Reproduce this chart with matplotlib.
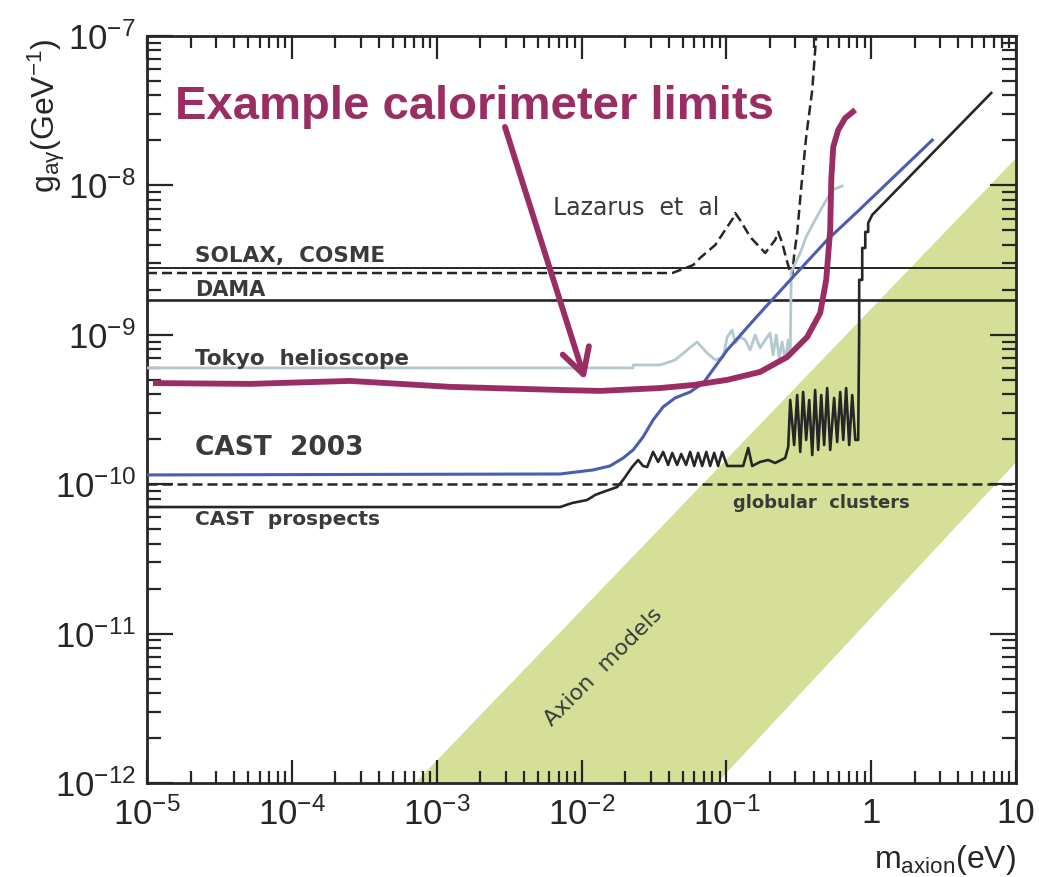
import matplotlib
matplotlib.use('Agg')
import matplotlib.pyplot as plt

plt.rcParams['font.family'] = ['Liberation Sans', 'DejaVu Sans']
plt.rcParams['mathtext.fontset'] = 'custom'
plt.rcParams['mathtext.rm'] = 'Liberation Sans'
plt.rcParams['mathtext.it'] = 'Liberation Sans:italic'
plt.rcParams['mathtext.bf'] = 'Liberation Sans:bold'

# axion mass (eV) and coupling (GeV^-1)
cast_prosp_m = [1e-5, 7.11e-3, 8.61e-3, 1.094e-2, 1.242e-2, 1.409e-2, 1.762e-2, 1.936e-2,
                2.233e-2, 2.46e-2, 2.66e-2, 2.838e-2, 3.12e-2, 3.38e-2, 3.66e-2, 3.96e-2,
                4.23e-2, 4.57e-2, 4.88e-2, 5.27e-2, 5.62e-2, 6.00e-2, 6.38e-2, 6.81e-2,
                7.27e-2, 7.73e-2, 8.24e-2, 8.77e-2, 9.35e-2, 0.1014, 0.1306, 0.1416,
                0.1507, 0.171, 0.1945, 0.2173, 0.2547, 0.2673, 0.276, 0.2938, 0.3083,
                0.3236, 0.3388, 0.3556, 0.3733, 0.3917, 0.410, 0.4305, 0.4519, 0.4732,
                0.4966, 0.5212, 0.5546, 0.5821, 0.6109, 0.6412, 0.6714, 0.7047, 0.7396,
                0.7762, 0.8128, 0.826, 0.826, 0.867, 0.867, 0.910, 0.910, 0.953, 0.953,
                1.016, 6.74]
cast_prosp_g = [7.03e-11, 7.03e-11, 7.48e-11, 7.84e-11, 8.47e-11, 8.87e-11, 9.57e-11, 1.067e-10,
                1.303e-10, 1.452e-10, 1.324e-10, 1.303e-10, 1.644e-10, 1.409e-10, 1.644e-10, 1.346e-10,
                1.618e-10, 1.346e-10, 1.592e-10, 1.346e-10, 1.644e-10, 1.324e-10, 1.618e-10, 1.324e-10,
                1.644e-10, 1.324e-10, 1.618e-10, 1.324e-10, 1.644e-10, 1.324e-10, 1.324e-10, 1.746e-10,
                1.324e-10, 1.409e-10, 1.452e-10, 1.387e-10, 1.496e-10, 1.774e-10, 3.66e-10, 1.828e-10, 3.95e-10,
                1.644e-10, 4.14e-10, 1.977e-10, 3.66e-10, 1.567e-10, 4.27e-10, 1.694e-10, 3.95e-10, 1.828e-10,
                4.40e-10, 1.694e-10, 3.78e-10, 1.914e-10, 4.14e-10, 1.977e-10, 4.40e-10, 1.828e-10, 3.95e-10,
                1.977e-10, 1.977e-10, 1.076e-9, 2.33e-9, 2.33e-9, 3.81e-9, 3.81e-9, 4.88e-9, 4.88e-9, 5.60e-9,
                6.34e-9, 4.15e-8]

cast03_m = [1e-5, 7.11e-3, 0.0120, 0.01573, 0.01936, 0.0227, 0.0266, 0.0312, 0.0366,
            0.0443, 0.0562, 0.0692, 0.1014, 0.171, 0.289, 0.4966, 0.80, 2.64]
cast03_g = [1.153e-10, 1.17e-10, 1.245e-10, 1.324e-10, 1.496e-10, 1.694e-10, 2.07e-10, 2.69e-10, 3.29e-10,
            3.78e-10, 4.14e-10, 4.75e-10, 7.91e-10, 1.40e-9, 2.44e-9, 4.31e-9, 6.64e-9, 2.01e-8]

tokyo_m = [1e-5, 0.0227, 0.0227, 0.0349, 0.0443, 0.0536, 0.0628, 0.0736, 0.0838, 0.0951,
           0.1014, 0.1096, 0.1151, 0.1245, 0.1349, 0.1459, 0.1581, 0.171, 0.1854, 0.2004,
           0.2104, 0.2208, 0.2317, 0.2427, 0.2547, 0.2673, 0.276, 0.2805, 0.3236, 0.3556,
           0.410, 0.459, 0.538, 0.631]
tokyo_g = [6.0e-10, 6.0e-10, 6.28e-10, 6.28e-10, 6.78e-10, 7.91e-10, 8.95e-10, 7.55e-10, 6.78e-10, 7.10e-10,
           9.66e-10, 1.076e-9, 8.81e-10, 9.66e-10, 9.23e-10, 7.91e-10, 9.97e-10, 8.17e-10, 9.23e-10, 1.028e-9,
           7.33e-10, 9.97e-10, 7.00e-10, 8.95e-10, 6.78e-10, 9.23e-10, 7.33e-10, 2.63e-9, 3.53e-9, 4.52e-9,
           5.86e-9, 7.16e-9, 9.31e-9, 9.91e-9]

lazarus_m = [1e-5, 0.0423, 0.0504, 0.0590, 0.0659, 0.0838, 0.1114, 0.1151, 0.1245, 0.1459,
             0.1854, 0.2173, 0.228, 0.2427, 0.263, 0.276, 0.2844, 0.2938, 0.3083, 0.329,
             0.3556, 0.3917, 0.417]
lazarus_g = [2.59e-9, 2.59e-9, 2.76e-9, 2.93e-9, 3.27e-9, 3.99e-9, 6.05e-9, 6.53e-9, 5.86e-9, 4.52e-9,
             3.53e-9, 4.31e-9, 4.88e-9, 4.12e-9, 3.07e-9, 2.63e-9, 2.44e-9, 3.42e-9, 4.80e-9, 9.75e-9,
             2.11e-8, 4.35e-8, 1e-7]

calor_m = [1.10e-5, 5.14e-5, 2.52e-4, 1.24e-3, 7.11e-3, 1.342e-2, 0.0349, 0.0590, 0.1014, 0.171,
           0.263, 0.3614, 0.4446, 0.489, 0.521, 0.530, 0.547, 0.592, 0.661, 0.776]
calor_g = [4.75e-10, 4.69e-10, 4.91e-10, 4.48e-10, 4.27e-10, 4.21e-10, 4.40e-10, 4.61e-10, 4.99e-10, 5.64e-10,
           7.10e-10, 9.66e-10, 1.40e-9, 2.33e-9, 5.03e-9, 1.087e-8, 1.81e-8, 2.35e-8, 2.82e-8, 3.20e-8]

# axion model band corners
band_m = [7.1e-4, 10, 10, 0.0863]
band_g = [1e-12, 1.52e-8, 1.4e-10, 1e-12]

solax_g = 2.8e-9
dama_g = 1.7e-9
globular_g = 1.0e-10

xticks = [1e-5, 1e-4, 1e-3, 1e-2, 1e-1, 1, 10]
xtick_labels = [r'$\mathregular{10^{-5}}$', r'$\mathregular{10^{-4}}$', r'$\mathregular{10^{-3}}$',
                r'$\mathregular{10^{-2}}$', r'$\mathregular{10^{-1}}$', '1', '10']
yticks = [1e-12, 1e-11, 1e-10, 1e-9, 1e-8, 1e-7]
ytick_labels = [r'$\mathregular{10^{-12}}$', r'$\mathregular{10^{-11}}$', r'$\mathregular{10^{-10}}$',
                r'$\mathregular{10^{-9}}$', r'$\mathregular{10^{-8}}$', r'$\mathregular{10^{-7}}$']

dark = '#262626'
gray = '#3a3a3a'
magenta = '#9a2d63'

fig = plt.figure(figsize=(10.39, 8.77), dpi=100)
ax = fig.add_axes([0.1415, 0.1072, 0.8364, 0.8518])
ax.set_xscale('log')
ax.set_yscale('log')

ax.fill(band_m, band_g, color='#d5df98', lw=0, zorder=1)

ax.axhline(solax_g, color=dark, lw=1.4, zorder=2)
ax.axhline(dama_g, color=dark, lw=1.9, zorder=2)
ax.axhline(globular_g, color=dark, lw=1.8, ls=(0, (4, 2)), zorder=2)

ax.plot(lazarus_m, lazarus_g, color=dark, lw=1.8, ls=(0, (4, 2)), zorder=3)
ax.plot(tokyo_m, tokyo_g, color='#b4c8d0', lw=2.0, zorder=3)
ax.plot(cast_prosp_m, cast_prosp_g, color=dark, lw=1.9, zorder=3)
ax.plot(cast03_m, cast03_g, color='#4a5db0', lw=2.2, zorder=4)
ax.plot(calor_m, calor_g, color=magenta, lw=4.2, zorder=5,
        solid_capstyle='butt', solid_joinstyle='round')

ax.annotate('', xy=(0.0106, 4.98e-10), xytext=(2.96e-3, 2.46e-8),
            arrowprops=dict(arrowstyle='->,head_length=1.0,head_width=0.55',
                            color=magenta, lw=4.2, mutation_scale=18,
                            shrinkA=0, shrinkB=0), zorder=6)

ax.text(0.0322, 0.889, 'Example calorimeter limits', transform=ax.transAxes,
        fontsize=34, fontweight='bold', color=magenta, va='baseline', ha='left')

lab = dict(transform=ax.transAxes, va='baseline', ha='left', color=gray, family='DejaVu Sans')
ax.text(0.0552, 0.6975, 'SOLAX,  COSME', fontsize=15.5, fontweight='bold', **lab)
ax.text(0.0552, 0.652, 'DAMA', fontsize=15, fontweight='bold', **lab)
ax.text(0.0552, 0.5596, 'Tokyo  helioscope', fontsize=15.5, fontweight='bold', **lab)
ax.text(0.0552, 0.439, 'CAST  2003', fontsize=19, fontweight='bold', **lab)
ax.text(0.0552, 0.3454, 'CAST  prospects', fontsize=14.5, fontweight='bold', **lab)
ax.text(0.467, 0.760, 'Lazarus  et  al', fontsize=17, **lab)
ax.text(0.674, 0.368, 'globular  clusters', fontsize=13, fontweight='bold', **lab)
ax.text(0.5247, 0.1553, 'Axion  models', transform=ax.transAxes, rotation=45,
        rotation_mode='anchor', ha='center', va='center', fontsize=16,
        color=gray, family='DejaVu Sans')

ax.set_xlim(1e-5, 10)
ax.set_ylim(1e-12, 1e-7)
ax.set_xticks(xticks, xtick_labels)
ax.set_yticks(yticks, ytick_labels)
ax.xaxis.set_minor_formatter(matplotlib.ticker.NullFormatter())
ax.yaxis.set_minor_formatter(matplotlib.ticker.NullFormatter())
ax.tick_params(which='both', direction='in', top=True, right=True, color=dark,
               width=1.6, labelcolor=dark, labelsize=25)
ax.tick_params(axis='x', which='major', length=16.5, pad=10)
ax.tick_params(axis='x', which='minor', length=8.5)
ax.tick_params(axis='y', which='major', length=18.5, pad=8)
ax.tick_params(axis='y', which='minor', length=10)
for s in ax.spines.values():
    s.set_linewidth(2)
    s.set_color(dark)

ax.text(1.0, -0.1138, r'$\mathregular{m_{axion}(eV)}$', transform=ax.transAxes,
        ha='right', va='baseline', fontsize=23, color=dark)
ax.text(-0.106, 0.997, r'$\mathregular{g_{a\gamma}(GeV^{-1})}$', transform=ax.transAxes,
        rotation=90, rotation_mode='anchor', ha='right', va='baseline',
        fontsize=23, color=dark)

fig.savefig('out.png', dpi=100)
